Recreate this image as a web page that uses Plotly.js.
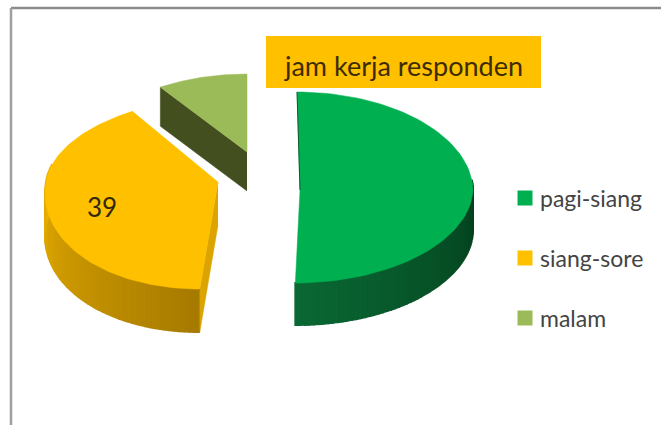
<!DOCTYPE html>
<html>
<head>
<meta charset="utf-8">
<script src="https://cdn.plot.ly/plotly-3.0.1.min.js"></script>
<style>html,body{margin:0;padding:0;background:#fff}</style>
</head>
<body>
<div id="chart" style="width:661px;height:425px"></div>
<script>
// Shift worked by each respondent group
const categories = ["pagi-siang", "siang-sore", "malam"];
const respondents = [48, 39, 9];
const labelledSlices = [1];          // only this slice carries a number
const chartTitle = "jam kerja responden";

// Slice colours: top face, and the side wall from its start to its end
const topColors = ["#00B050", "#FFC000", "#9BBB59"];
const wallFrom = [[10, 104, 52], [166, 122, 0], [68, 80, 32]];
const wallTo = [[4, 62, 28], [236, 178, 0], [68, 80, 32]];
const cutWall = ["#064d25", "#DBA400", "#444F20"];

// Exploded 3D placement of each slice on the pixel-sized axes
const placement = [
  {cx: 300, cy: 190, rx: 173, ryBack: 98, ryFront: 93, leanBack: 0.03, leanFront: -0.05, depth: 42},
  {cx: 218, cy: 182, rx: 172, ryBack: 85, ryFront: 107, leanBack: -0.14, leanFront: -0.17, depth: 43},
  {cx: 247, cy: 152, rx: 156, ryBack: 78, ryFront: 78, leanBack: 0, leanFront: 0, depth: 39}
];

const total = respondents.reduce((a, b) => a + b, 0);
const sweeps = respondents.map(v => v / total * 360);
const starts = sweeps.map((_, i) => sweeps.slice(0, i).reduce((a, b) => a + b, 0));

// Angle in degrees, clockwise from twelve o'clock, to a point on the tilted disc
function rimPoint(p, deg) {
  const t = deg * Math.PI / 180;
  const c = Math.cos(t);
  const dy = -c * (c > 0 ? p.ryBack : p.ryFront);
  const dx = p.rx * Math.sin(t) + (dy < 0 ? p.leanBack : p.leanFront) * dy;
  return [p.cx + dx, p.cy + dy];
}

function polygon(points, color, name, edge) {
  return {
    type: "scatter", mode: "lines", fill: "toself", fillcolor: color,
    x: points.map(q => q[0]), y: points.map(q => q[1]),
    line: {color: color, width: edge},
    hoverinfo: "skip", showlegend: false, name: name
  };
}

const mix = (a, b, f) => "rgb(" + a.map((v, k) => Math.round(v + (b[k] - v) * f)).join(",") + ")";
const lowered = (q, depth) => [q[0], q[1] + depth];

const traces = [];

categories.forEach((name, i) => {
  const p = placement[i];
  const a0 = starts[i], a1 = a0 + sweeps[i];
  const apex = [p.cx, p.cy];
  const first = rimPoint(p, a0), last = rimPoint(p, a1);

  // Flat cut faces that the viewer can see
  if (i === 1) {
    traces.push(polygon([apex, first, lowered(first, p.depth), lowered(apex, p.depth)], cutWall[i], name, 0.5));
  }
  if (i === 2) {
    traces.push(polygon([apex, first, lowered(first, p.depth), lowered(apex, p.depth)], cutWall[i], name, 0.5));
  }

  // Curved outer wall, built from narrow shaded strips along the front rim
  if (i < 2) {
    const wallStart = Math.max(a0, 84);
    const wallEnd = Math.min(a1, 282);
    const strips = 60;
    const span = wallEnd - wallStart;
    for (let s = 0; s < strips; s++) {
      const d0 = wallStart + span * s / strips;
      const d1 = wallStart + span * (s + 1) / strips;
      const q0 = rimPoint(p, d0), q1 = rimPoint(p, d1);
      const f = i === 0 ? 1 - (s + 0.5) / strips : (s + 0.5) / strips;
      traces.push(polygon([q0, q1, lowered(q1, p.depth), lowered(q0, p.depth)],
        mix(wallFrom[i], wallTo[i], f), name, 2));
    }
  }

  // Top face
  const outline = [apex];
  const steps = 90;
  for (let s = 0; s <= steps; s++) outline.push(rimPoint(p, a0 + sweeps[i] * s / steps));
  outline.push(apex);
  traces.push(polygon(outline, topColors[i], name, 0.5));

  // Dark back edge of the large slice
  if (i === 0) {
    traces.push({
      type: "scatter", mode: "lines",
      x: [first[0], apex[0]], y: [first[1], apex[1]],
      line: {color: "#0c5a30", width: 1}, hoverinfo: "skip", showlegend: false
    });
  }
});

// Legend keys and their names
const keyColumnX = 525;
const keyTextX = 538;
const keyRows = [198, 258, 318];
traces.push({
  type: "scatter", mode: "markers",
  x: categories.map(() => keyColumnX), y: keyRows,
  marker: {symbol: "square", size: 15, color: topColors, line: {width: 0}},
  hoverinfo: "skip", showlegend: false
});

const annotations = categories.map((name, i) => ({
  xref: "x", yref: "y", x: keyTextX, y: keyRows[i], text: name,
  xanchor: "left", yanchor: "middle", showarrow: false,
  font: {family: "Lato, 'Open Sans', sans-serif", size: 23, color: "#444444"}
}));

labelledSlices.forEach(i => annotations.push({
  xref: "x", yref: "y", x: 102, y: 207, text: String(respondents[i]),
  xanchor: "center", yanchor: "middle", showarrow: false,
  font: {family: "Lato, 'Open Sans', sans-serif", size: 26, color: "#33280a"}
}));

const layout = {
  width: 661, height: 425,
  margin: {l: 0, r: 0, t: 0, b: 0},
  paper_bgcolor: "#ffffff", plot_bgcolor: "#ffffff",
  showlegend: false,
  title: {
    text: chartTitle, x: 404 / 661, y: 1 - 67 / 425,
    xanchor: "center", yanchor: "middle",
    font: {family: "Lato, 'Open Sans', sans-serif", size: 27, color: "#3d2c00"}
  },
  xaxis: {range: [0, 661], visible: false, fixedrange: true},
  yaxis: {range: [425, 0], visible: false, fixedrange: true},
  shapes: [
    {type: "rect", xref: "x", yref: "y", x0: 266, x1: 541, y0: 36, y1: 88,
     fillcolor: "#FFC000", line: {width: 0}, layer: "below"},
    {type: "line", xref: "x", yref: "y", x0: 11, x1: 661, y0: 8, y1: 8,
     line: {color: "#8c8c8c", width: 2.5}},
    {type: "line", xref: "x", yref: "y", x0: 11, x1: 11, y0: 8, y1: 425,
     line: {color: "#a0a0a0", width: 2.5}}
  ],
  annotations: annotations
};

Plotly.newPlot("chart", traces, layout, {displayModeBar: false, staticPlot: true});
</script>
</body>
</html>
